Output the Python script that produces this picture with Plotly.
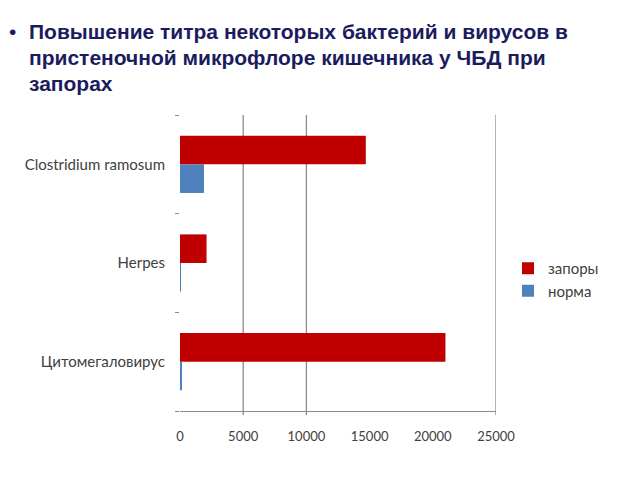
import plotly.graph_objects as go

categories = ["Цитомегаловирус", "Herpes", "Clostridium ramosum"]
norma = [80, 30, 1900]
zapory = [21000, 2100, 14700]
x_ticks = [0, 5000, 10000, 15000, 20000, 25000]
x_tick_labels = ["0", "5000", "10000", "15000", "20000", "25000"]
grid_at = [5000, 10000, 25000]
title_lines = ["Повышение титра некоторых бактерий и вирусов в",
               "пристеночной микрофлоре кишечника у ЧБД при",
               "запорах"]

# page body adds an 8px offset; layout numbers below are in figure pixels
L, T, W, H = 172, 107, 316, 296


def px(fx):
    return (fx - L) / W


def py(fy):
    return (T + H - fy) / H


fig = go.Figure()
fig.add_trace(go.Bar(y=categories, x=norma, orientation="h", name="норма",
                     marker=dict(color="#4F81BD", line=dict(width=0)),
                     legendgroup="n"))
fig.add_trace(go.Bar(y=categories, x=zapory, orientation="h", name="запоры",
                     marker=dict(color="#C00000", line=dict(width=0)),
                     legendgroup="z"))

for g in grid_at:
    fig.add_shape(type="line", xref="x", yref="paper", x0=g, x1=g, y0=-0.0135, y1=1,
                  line=dict(color="#8c8c8c", width=1.3), layer="below")

title_font = dict(family="Liberation Sans", size=21, color="#1b1c5e")
line_y = [24, 49.5, 75]
fig.add_annotation(xref="paper", yref="paper", x=px(-1), y=py(line_y[0]),
                   xanchor="left", yanchor="middle", showarrow=False, text="•",
                   font=title_font)
for txt, yy in zip(title_lines, line_y):
    fig.add_annotation(xref="paper", yref="paper", x=px(19), y=py(yy),
                       xanchor="left", yanchor="middle", showarrow=False, align="left",
                       text="<b>" + txt + "</b>", font=title_font)

fig.update_layout(
    width=640, height=480,
    margin=dict(l=L, r=640 - L - W, t=T, b=480 - T - H),
    paper_bgcolor="white", plot_bgcolor="white",
    barmode="group", bargap=0.42, bargroupgap=0,
    font=dict(family="Lato", size=13, color="#404040"),
    showlegend=True,
    legend=dict(x=px(500), y=py(244), xanchor="left", yanchor="top",
                traceorder="reversed", tracegroupgap=5, font=dict(size=15, color="#404040"),
                bgcolor="rgba(0,0,0,0)"),
    xaxis=dict(range=[0, 25000], tickvals=x_ticks, ticktext=x_tick_labels,
               showgrid=False, zeroline=False,
               showline=True, linecolor="#8c8c8c", linewidth=1.3, ticks="",
               tickfont=dict(size=13, color="#404040"), ticklabelstandoff=13),
    yaxis=dict(categoryorder="array", categoryarray=categories, showgrid=False,
               zeroline=False, showline=False, ticks="outside", tickson="boundaries",
               ticklen=4, tickcolor="#8c8c8c", tickfont=dict(size=15, color="#404040"),
               ticklabelstandoff=14),
)

fig.write_html("out.html")
